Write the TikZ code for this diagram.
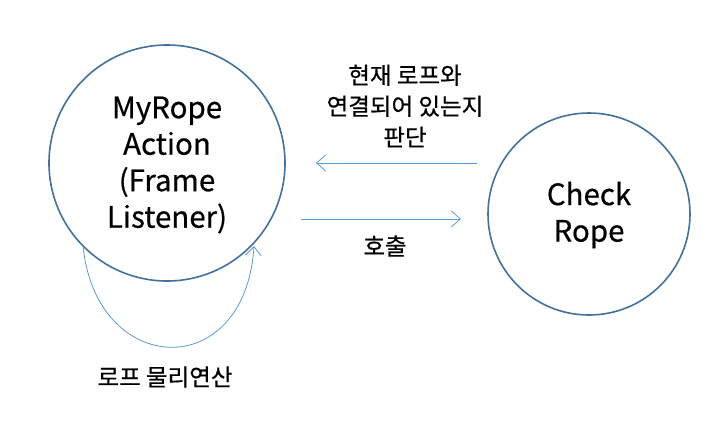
\documentclass[tikz,border=0pt]{standalone}
\usepackage{fontspec}
\setmainfont{Noto Sans CJK KR}[FakeBold=0.5]
\usetikzlibrary{arrows.meta}
\definecolor{circ}{HTML}{41719C}
\definecolor{arr}{HTML}{5B9BD5}
\begin{document}
\begin{tikzpicture}[x=1pt,y=-1pt,
  bigcirc/.style={circle,draw=circ,line width=1.6pt,inner sep=0pt},
  conn/.style={draw=arr,line width=0.8pt,-{Straight Barb[length=9pt,width=16pt,line width=0.8pt]}},
  lbl/.style={font=\fontsize{23.5}{31}\selectfont,align=center,text=black},
  big/.style={font=\fontsize{29.5}{36.5}\selectfont,align=center,text=black}]
\useasboundingbox (0,0) rectangle (718,432);
\node[bigcirc,minimum size=236pt] (a) at (167,163) {};
\node[bigcirc,minimum size=202pt] (b) at (589,214) {};
\node[big] (at) at (167,165) {MyRope\\Action\\(Frame\\Listener)};
\node[big] (bt) at (589,215) {Check\\Rope};
\coordinate (u1) at (477,163);
\coordinate (u2) at (316,163);
\coordinate (l1) at (301,219);
\coordinate (l2) at (461,219);
\draw[conn] (u1) -- (u2);
\draw[conn] (l1) -- (l2);
\coordinate (s1) at (83,245);
\coordinate (s2) at (254,246);
\draw[conn] (s1) .. controls (95,377) and (245,385) .. (s2);
\node[lbl] (t1) at (405,106) {현재 로프와\\연결되어 있는지\\판단};
\node[lbl] (t2) at (385,246) {호출};
\node[lbl] (t3) at (165,377) {로프 물리연산};
\end{tikzpicture}
\end{document}
